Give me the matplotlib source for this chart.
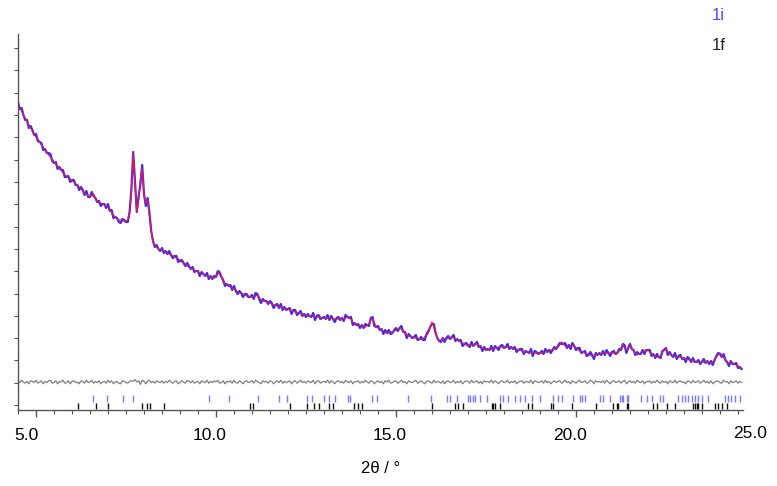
import numpy as np
import matplotlib.pyplot as plt
from matplotlib.ticker import MultipleLocator, NullFormatter
from matplotlib.transforms import ScaledTranslation

plt.rcParams['font.family'] = ['Liberation Sans', 'DejaVu Sans']

# scan grid (2theta, deg)
tth_start = 4.5
tth_step = 0.05

# calculated profile, arbitrary counts
y_calc = [
    306, 302, 299, 295, 292, 289, 285, 282, 279, 276, 273, 271, 268, 265, 263, 260, 258, 255, 253, 251,
    248, 246, 244, 242, 240, 237, 235, 234, 232, 231, 229, 228, 226, 225, 223, 221, 219, 217, 216, 214,
    213, 215, 216, 211, 209, 207, 207, 206, 205, 204, 203, 200, 198, 195, 193, 191, 190, 190, 189, 189,
    189, 190, 197, 219, 257, 225, 198, 211, 230, 242, 215, 207, 210, 195, 180, 168, 165, 163, 161, 160,
    160, 159, 158, 157, 156, 155, 154, 153, 152, 151, 150, 148, 147, 146, 144, 143, 142, 141, 140, 139,
    138, 137, 136, 136, 135, 134, 133, 133, 132, 132, 133, 136, 139, 134, 128, 127, 125, 124, 123, 122,
    121, 120, 118, 117, 117, 116, 115, 114, 114, 113, 113, 113, 114, 115, 112, 110, 109, 109, 108, 108,
    107, 106, 105, 105, 104, 103, 103, 102, 102, 101, 101, 100, 99, 99, 98, 97, 97, 96, 95, 95,
    95, 94, 94, 94, 94, 93, 93, 93, 93, 92, 92, 92, 92, 92, 92, 91, 91, 91, 91, 91,
    91, 91, 92, 93, 93, 91, 88, 86, 85, 84, 84, 84, 83, 83, 85, 86, 90, 92, 87, 83,
    82, 81, 80, 79, 78, 77, 77, 78, 78, 79, 80, 81, 82, 81, 79, 77, 75, 74, 74, 73,
    72, 72, 72, 71, 71, 71, 73, 75, 77, 83, 88, 83, 78, 71, 69, 70, 70, 71, 71, 72,
    72, 73, 72, 71, 70, 70, 68, 67, 66, 65, 64, 65, 65, 65, 66, 66, 65, 63, 62, 61,
    60, 60, 61, 61, 61, 62, 62, 63, 63, 63, 63, 63, 63, 63, 62, 62, 61, 61, 60, 60,
    59, 58, 58, 58, 58, 58, 57, 57, 57, 57, 57, 57, 58, 58, 59, 59, 60, 60, 61, 62,
    63, 65, 68, 66, 64, 63, 64, 64, 65, 64, 62, 61, 59, 58, 58, 57, 56, 56, 55, 54,
    54, 55, 55, 56, 56, 57, 57, 57, 57, 57, 57, 57, 57, 57, 59, 62, 65, 62, 60, 62,
    64, 62, 59, 57, 55, 56, 57, 58, 59, 59, 60, 58, 56, 55, 53, 53, 53, 54, 57, 61,
    61, 58, 56, 55, 54, 54, 53, 53, 53, 52, 52, 51, 51, 50, 50, 49, 49, 48, 48, 48,
    48, 48, 48, 48, 48, 47, 48, 50, 53, 55, 57, 55, 53, 50, 47, 47, 47, 47, 46, 45,
    44, 42, 42,
]

# observed minus calculated
y_diff = [
    2, -1, 3, 0, -2, 1, -3, 2, 1, -1, 3, -2, 0, 2, -3, 1, -1, 2, 3, -2,
    -1, 2, -3, 1, 0, 3, -2, -1, 2, -3, 1, 2, -1, 0, -3, 2, 1, -2, 3, -1,
    0, 3, -2, 1, -1, 2, -3, 0, 1, -2, 3, -1, 2, -3, 0, 1, -2, -3, 2, 1,
    -1, -2, 1, 2, 1, 4, 0, 2, -4, 3, 1, -3, 2, 3, -1, 1, -2, 2, 0, -1,
    2, -2, 1, -1, 3, 0, -2, 1, 2, -3, -1, 2, 0, -2, 3, 1, -1, 2, -2, 0,
    1, -3, 2, 0, -1, 3, -2, 1, -1, 2, 0, 3, -2, -1, 2, -3, 1, 0, 2, -2,
    3, -1, -2, 2, 0, -3, 1, 2, -1, 0, 2, -2, 3, 1, -1, -3, 2, 0, 1, -2,
    2, 1, -3, 0, 2, -1, 3, -2, 1, -1, 0, 2, -3, 1, 2, -2, 0, 3, -1, 1,
    -2, 2, 0, -1, 3, -3, 1, 2, -2, 0, 1, -1, 3, -2, 2, 0, -3, 1, 2, -1,
    1, -2, 3, 0, -1, 2, -3, 1, 0, 2, -2, 1, -1, 3, 0, -2, 2, 1, -3, 0,
    2, -1, 1, -3, 2, 0, 3, -2, -1, 1, 2, -2, 0, 3, -1, 1, -3, 2, 0, -1,
    1, 3, -2, 0, 2, -1, -3, 1, 2, 0, -2, 3, -1, 1, 0, -2, 2, -3, 1, 2,
    -1, 0, 3, -2, 1, -1, 2, -3, 0, 2, 1, -2, 3, -1, 0, 2, -2, 1, -3, 2,
    0, 1, -1, 3, -2, 2, 0, -3, 1, 2, -1, 0, 3, -2, 1, -1, 2, -3, 0, 1,
    2, -2, 1, 0, -1, 3, -3, 2, 1, -1, 0, 2, -2, 3, -1, 1, -3, 0, 2, -1,
    1, 2, -2, 0, 3, -1, 1, -3, 2, 0, -2, 1, 3, -1, 0, 2, -2, -1, 3, 1,
    -3, 2, 0, 1, -1, 2, -2, 3, 0, -3, 1, 2, -1, 0, 2, -2, 1, 3, -3, 0,
    2, -1, 1, -2, 3, 0, -1, 2, -3, 1, 0, 2, -2, 1, -1, 3, 0, -2, 2, -1,
    1, -3, 2, 0, -1, 3, -2, 1, 2, -1, 0, -3, 2, 1, -2, 3, -1, 0, 2, -2,
    0, 3, -1, 1, -2, 2, -3, 0, 1, 2, -1, -2, 3, 0, 1, -3, 2, -1, 0, 2,
    -2, 1, -1,
]
diff_offset = 28

# reflection positions for the two phases
refl_1i = [6.57, 6.98, 7.41, 7.69, 9.81, 10.37, 11.16, 11.74, 11.98, 12.53, 12.66, 13.0,
           13.15, 13.31, 13.68, 13.72, 14.33, 14.46, 15.34, 15.97, 16.41, 16.5, 16.69,
           17.01, 17.06, 17.13, 17.19, 17.33, 17.52, 17.89, 17.98, 18.10, 18.31, 18.44,
           18.58, 18.77, 19.0, 19.37, 19.49, 19.60, 19.93, 20.11, 20.16, 20.25, 20.67,
           20.76, 20.94, 21.22, 21.27, 21.31, 21.41, 21.45, 21.82, 21.96, 22.10, 22.33,
           22.43, 22.84, 22.94, 23.03, 23.12, 23.21, 23.31, 23.40, 23.49, 23.68, 24.14,
           24.23, 24.32, 24.42, 24.56]
refl_1f = [6.16, 6.66, 7.01, 7.94, 8.09, 8.17, 8.56, 10.94, 11.04, 12.06, 12.52, 12.73,
           12.87, 13.15, 13.26, 13.83, 13.95, 14.05, 15.99, 16.64, 16.73, 16.87, 17.66,
           17.70, 17.75, 17.89, 18.68, 18.77, 19.32, 19.37, 19.88, 20.57, 21.04, 21.13,
           21.18, 21.41, 21.45, 22.15, 22.24, 22.52, 22.75, 23.26, 23.31, 23.35, 23.40,
           23.49, 23.86, 23.95, 24.05, 24.19]

tth = tth_start + tth_step * np.arange(len(y_calc))
calc = np.array(y_calc, dtype=float)
diff = np.array(y_diff, dtype=float)
obs = calc + diff

fig = plt.figure(figsize=(7.77, 4.86), dpi=100)
ax = fig.add_axes([18 / 777, 1 - 410 / 486, 725 / 777, 376 / 486])

ax.plot(tth, obs, color='#2f2fff', lw=1.6)
ax.plot(tth, calc, color='#e8184c', lw=0.9)
ax.plot(tth, diff_offset + diff * 0.6, color='#808080', lw=0.9)

ax.vlines(refl_1i, 8, 15, color='#7a7aff', lw=1.0)
ax.vlines(refl_1f, 1, 7, color='#111111', lw=1.0)

ax.set_xlim(4.5, 24.64)
ax.set_ylim(0, 376)

for side in ['top', 'right']:
    ax.spines[side].set_visible(False)
for side in ['left', 'bottom']:
    ax.spines[side].set_color('#555555')
    ax.spines[side].set_linewidth(1.0)

ax.xaxis.set_major_locator(MultipleLocator(5))
ax.xaxis.set_minor_locator(MultipleLocator(0.5))
ax.xaxis.set_major_formatter(lambda v, p: f'{v:.1f}')
ax.tick_params(axis='x', which='major', length=5, width=1, color='#555555',
               labelsize=12.5, pad=8)
ax.tick_params(axis='x', which='minor', length=3, width=0.8, color='#555555')

ax.set_yticks(np.arange(5, 376, 22.3))
ax.yaxis.set_major_formatter(NullFormatter())
ax.tick_params(axis='y', length=3, width=0.8, color='#555555')

# last label sits past the end of the scan
ax.text(25.0, -0.043, '25.0', transform=ax.get_xaxis_transform(), ha='center', va='top',
        fontsize=12.5, clip_on=False)

# labels sit a little left of their ticks
fig.canvas.draw()
for lab in ax.get_xticklabels() + ax.texts:
    dx = -10 if lab.get_text() == '5.0' else -6
    lab.set_transform(lab.get_transform() + ScaledTranslation(dx / 100, 0, fig.dpi_scale_trans))

ax.set_xlabel('2θ / °', fontsize=12, labelpad=13)

fig.text(712 / 777, 1 - 16 / 486, '1i', color='#4d4dff', fontsize=12, va='center')
fig.text(712 / 777, 1 - 45 / 486, '1f', color='#222222', fontsize=12, va='center')

fig.savefig('out.png', dpi=100)
